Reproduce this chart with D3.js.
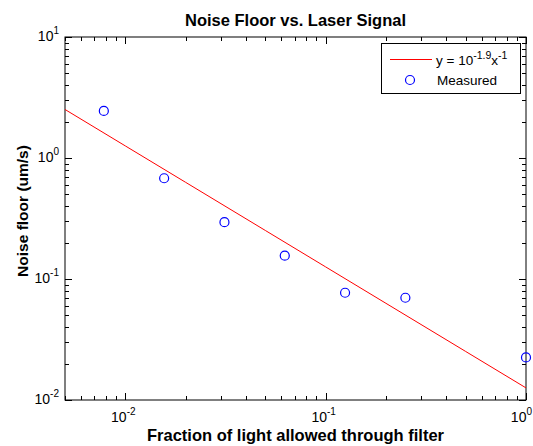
<!DOCTYPE html>
<html><head><meta charset="utf-8">
<script src="https://cdn.jsdelivr.net/npm/d3@7"></script>
<style>body{margin:0;background:#fff}svg{display:block}text{font-family:"Liberation Sans",Arial,sans-serif}</style>
</head><body><svg id="c" width="533" height="446"></svg>
<script>
const measuredX = [1/128, 1/64, 1/32, 1/16, 1/8, 1/4, 1];
const measuredY = [2.45, 0.68, 0.295, 0.156, 0.077, 0.070, 0.0225];
const fitX = [0.005, 0.01, 0.02, 0.05, 0.1, 0.2, 0.5, 1];
const fitY = [2.518, 1.259, 0.6295, 0.2518, 0.1259, 0.06295, 0.02518, 0.01259];
const xMajor = [-2, -1, 0];
const yMajor = [-2, -1, 0, 1];

const svg = d3.select("#c");
const L = 65, R = 526, T = 37, B = 400;
const x = d3.scaleLog().domain([0.005, 1]).range([L, R]);
const y = d3.scaleLog().domain([0.01, 10]).range([B, T]);

svg.append("rect").attr("x", L).attr("y", T).attr("width", R - L).attr("height", B - T)
  .attr("fill", "none").attr("stroke", "#000").attr("stroke-width", 1);

const g = svg.append("g").attr("stroke", "#000").attr("stroke-width", 1);
x.ticks().forEach(v => {
  const major = Math.abs(Math.log10(v) - Math.round(Math.log10(v))) < 1e-9;
  const len = major ? 7 : 4;
  const px = Math.round(x(v)) + 0.5;
  g.append("line").attr("x1", px).attr("x2", px).attr("y1", B).attr("y2", B - len);
  g.append("line").attr("x1", px).attr("x2", px).attr("y1", T).attr("y2", T + len);
});
y.ticks().forEach(v => {
  const major = Math.abs(Math.log10(v) - Math.round(Math.log10(v))) < 1e-9;
  const len = major ? 7 : 4;
  const py = Math.round(y(v)) + 0.5;
  g.append("line").attr("y1", py).attr("y2", py).attr("x1", L).attr("x2", L + len);
  g.append("line").attr("y1", py).attr("y2", py).attr("x1", R).attr("x2", R - len);
});

xMajor.forEach(e => {
  const last = e === 0;
  const t = svg.append("text").attr("x", last ? 532 : x(Math.pow(10, e)) - 2).attr("y", B + 22)
    .attr("text-anchor", last ? "end" : "middle").attr("font-size", 14);
  t.append("tspan").text("10");
  t.append("tspan").attr("dy", -7).attr("font-size", 10).text(e);
});
yMajor.forEach(e => {
  const t = svg.append("text").attr("x", L - 6).attr("y", y(Math.pow(10, e)) + 4)
    .attr("text-anchor", "end").attr("font-size", 14);
  t.append("tspan").text("10");
  t.append("tspan").attr("dy", -7).attr("font-size", 10).text(e);
});

svg.append("path").datum(fitX.map((d, i) => [d, fitY[i]]))
  .attr("d", d3.line().x(d => x(d[0])).y(d => y(d[1])))
  .attr("fill", "none").attr("stroke", "#ff0000").attr("stroke-width", 1);

svg.append("g").selectAll("circle").data(measuredX.map((d, i) => [d, measuredY[i]]))
  .join("circle").attr("cx", d => x(d[0])).attr("cy", d => y(d[1])).attr("r", 4.5)
  .attr("fill", "none").attr("stroke", "#0000ff").attr("stroke-width", 1.2);

svg.append("text").attr("x", (L + R) / 2).attr("y", 26).attr("text-anchor", "middle")
  .attr("font-size", 16.5).attr("font-weight", "bold").text("Noise Floor vs. Laser Signal");
svg.append("text").attr("x", (L + R) / 2).attr("y", 441).attr("text-anchor", "middle")
  .attr("font-size", 16.5).attr("font-weight", "bold").text("Fraction of light allowed through filter");
svg.append("text").attr("transform", `translate(28,211) rotate(-90)`).attr("text-anchor", "middle")
  .attr("font-size", 15.5).attr("font-weight", "bold").text("Noise floor (um/s)");

const lg = svg.append("g");
lg.append("rect").attr("x", 381.5).attr("y", 43.5).attr("width", 139).attr("height", 50)
  .attr("fill", "#fff").attr("stroke", "#000").attr("stroke-width", 1);
lg.append("path").attr("d", "M390,59.5H432")
  .style("stroke", "#ff0000").style("stroke-width", "1.2px").style("fill", "none");
const lt = lg.append("text").attr("x", 436).attr("y", 65).attr("font-size", 13.5);
lt.append("tspan").text("y = 10");
lt.append("tspan").attr("dy", -6).attr("font-size", 10.5).text("-1.9");
lt.append("tspan").attr("dy", 6).text("x");
lt.append("tspan").attr("dy", -6).attr("font-size", 10.5).text("-1");
lg.append("circle").attr("cx", 410).attr("cy", 80).attr("r", 4.5)
  .attr("fill", "none").attr("stroke", "#0000ff").attr("stroke-width", 1.2);
lg.append("text").attr("x", 437).attr("y", 85).attr("font-size", 13.5).text("Measured");
</script></body></html>
